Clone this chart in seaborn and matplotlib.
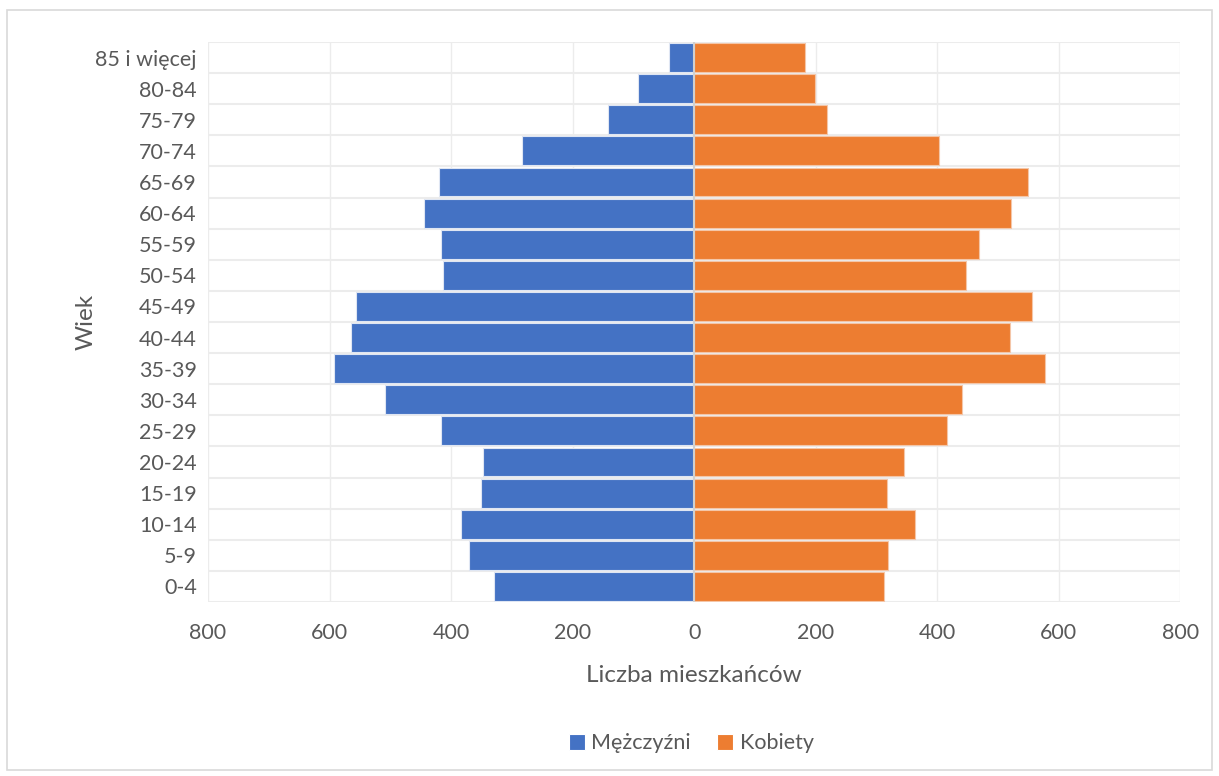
import matplotlib
matplotlib.use("Agg")
import matplotlib.pyplot as plt
from matplotlib.patches import Rectangle
from matplotlib.ticker import FuncFormatter, MultipleLocator
import pandas as pd
import seaborn as sns

# Age groups from youngest to oldest
age_groups = ["0-4", "5-9", "10-14", "15-19", "20-24", "25-29", "30-34", "35-39",
              "40-44", "45-49", "50-54", "55-59", "60-64", "65-69", "70-74",
              "75-79", "80-84", "85 i więcej"]
men = [330, 371, 384, 350, 347, 416, 508, 592, 565, 556, 413, 417, 444, 420,
       283, 141, 93, 42]
women = [312, 319, 364, 318, 345, 416, 441, 577, 519, 556, 447, 469, 521, 549,
         403, 218, 199, 182]
sex_labels = ["Mężczyźni", "Kobiety"]
colors = ["#4472C4", "#ED7D31"]
edge_colors = ["#dfe6f3", "#f4c6a8"]

df = pd.DataFrame({
    "Wiek": age_groups * 2,
    "Płeć": [sex_labels[0]] * len(age_groups) + [sex_labels[1]] * len(age_groups),
    "Liczba": [-v for v in men] + women,
})

sns.set_theme(style="white")
plt.rcParams["font.family"] = ["Lato", "DejaVu Sans"]

fig = plt.figure(figsize=(12.19, 7.76), dpi=100)
ax = fig.add_axes([0.1706, 0.2242, 0.7977, 0.7217])

order = age_groups[::-1]
sns.barplot(data=df, y="Wiek", x="Liczba", hue="Płeć", order=order,
            hue_order=sex_labels, palette=colors, saturation=1, dodge=False,
            orient="h", width=0.93, linewidth=0.8, ax=ax, zorder=3)

# lighter outline for each series
for container, ec in zip(ax.containers, edge_colors):
    for patch in container:
        patch.set_edgecolor(ec)

ax.set_xlim(-800, 800)
ax.set_ylim(len(order) - 0.5, -0.5)
ax.xaxis.set_major_locator(MultipleLocator(200))
ax.xaxis.set_major_formatter(FuncFormatter(lambda v, p: f"{abs(int(round(v)))}"))
ax.set_yticks(range(len(order)))
ax.set_yticks([i + 0.5 for i in range(-1, len(order))], minor=True)
ax.grid(axis="x", which="major", color="#ececec", linewidth=1, zorder=0)
ax.grid(axis="y", which="minor", color="#ececec", linewidth=1.5, zorder=0)
ax.grid(axis="y", which="major", visible=False)
ax.axvline(0, color="#d0d0d0", linewidth=1.5, zorder=4)
ax.set_axisbelow(True)
for s in ax.spines.values():
    s.set_visible(False)
ax.tick_params(axis="both", which="both", length=0, labelsize=15.5, colors="#595959")
ax.tick_params(axis="x", pad=15)
ax.tick_params(axis="y", pad=8)

ax.set_xlabel("Liczba mieszkańców", fontsize=17.5, color="#595959", labelpad=16)
ax.set_ylabel("Wiek", fontsize=17.5, color="#595959", labelpad=-1)

ax.legend(loc="center", ncol=2, frameon=False,
          fontsize=15.5, labelcolor="#595959", handlelength=0.75, handleheight=0.75,
          handletextpad=0.3, columnspacing=1.2)
ax.legend_.set_bbox_to_anchor((0.567, 0.042), transform=fig.transFigure)

fig.patches.append(Rectangle((0.006, 0.008), 0.988, 0.979, transform=fig.transFigure,
                             fill=False, edgecolor="#d9d9d9", linewidth=1.2))

fig.savefig("out.png", dpi=100, facecolor="white")
